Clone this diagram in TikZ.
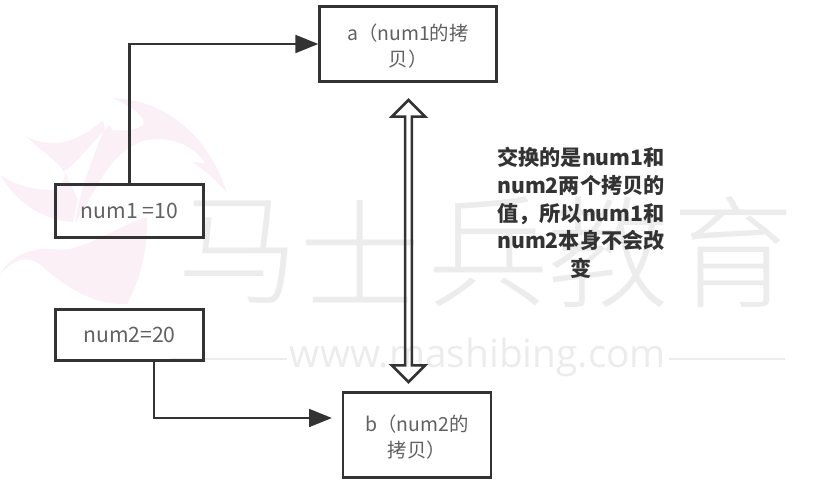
\documentclass[tikz,border=0pt]{standalone}
\usepackage{fontspec}
\usepackage{xcolor}
\setmainfont{Noto Sans CJK SC}
\newfontfamily\wmfont{Noto Sans CJK SC Light}
\newfontfamily\urlfont{Open Sans}
\definecolor{boxline}{rgb}{0.2, 0.2, 0.2}
\definecolor{boxtext}{rgb}{0.38, 0.38, 0.38}
\definecolor{markgray}{rgb}{0.925, 0.925, 0.925}
\definecolor{markpink}{rgb}{0.985, 0.94, 0.965}
\usetikzlibrary{arrows.meta,shapes.arrows}
\newcommand{\dropline}[1]{\raisebox{-1.2pt}[\height][\depth]{#1}}
\tikzset{
    varbox/.style={draw=boxline, line width=1.6pt, rectangle, inner sep=0pt, align=center, text=boxtext, font=\fontsize{11}{14.7}\selectfont},
    copyarrow/.style={draw=boxline, line width=1.6pt, -{Triangle[length=13pt,width=10pt]}},
    swaparrow/.style={draw=boxline, line width=1.5pt, double arrow, rotate=90, inner sep=0pt, minimum height=160pt, minimum width=19pt, double arrow head extend=3pt, double arrow tip angle=90},
    wmark/.style={text=markgray, inner sep=0pt}
}

\begin{document}
\begin{tikzpicture}[x=0.567pt, y=-0.567pt]

    \useasboundingbox (0, 0) rectangle (821, 485);

    % Pink logo behind everything
    \fill[markpink] (112,98) .. controls (170,100) and (210,140) .. (227,193) .. controls (215,180) and (205,170) .. (192,162) -- (205,163) .. controls (190,140) and (160,135) .. (140,142) .. controls (120,150) and (105,170) .. (95,190) .. controls (85,205) and (80,215) .. (75,223) .. controls (80,190) and (90,165) .. (103,132) -- (110,125) -- (112,130) .. controls (130,132) and (147,128) .. (143,120) .. controls (138,108) and (122,104) .. (112,98) -- cycle;
    \fill[markpink] (27,137) .. controls (50,148) and (75,145) .. (103,120) -- (105,130) .. controls (90,145) and (75,165) .. (63,172) .. controls (63,165) and (45,155) .. (27,137) -- cycle;
    \fill[markpink] (0,175) .. controls (15,185) and (35,190) .. (50,190) .. controls (60,190) and (65,180) .. (65,172) -- (78,200) -- (73,222) .. controls (40,220) and (15,200) .. (0,175) -- cycle;
    \fill[markpink] (0,275) .. controls (10,255) and (35,245) .. (60,250) .. controls (85,250) and (120,225) .. (147,217) .. controls (148,250) and (140,280) .. (127,304) .. controls (100,305) and (75,295) .. (43,267) .. controls (30,255) and (15,257) .. (0,275) -- cycle;

    % Big gray watermark, one letter at a time
    \foreach \position/\letter in {238/马, 360/士, 488/兵, 608/教, 733/育} {
        \node[wmark, font=\wmfont\fontsize{69}{69}\selectfont] at (\position, 252) {\letter};
    }
    \node[wmark, font=\urlfont\fontsize{22}{24}\selectfont] (website) at (478, 357) {www.mashibing.com};
    \draw[markgray, line width=1pt] (website.west) ++(-3,2) -- (170, 359);
    \draw[markgray, line width=1pt] (website.east) ++(3,2) -- (785, 359);

    % The four boxes
    \node[varbox, minimum width=100pt, minimum height=42.5pt] (copya) at (408, 44) {\dropline{a（num1的拷}\\\dropline{贝）}};
    \node[varbox, minimum width=83.5pt, minimum height=30.5pt] (numa) at (129.5, 211) {\fontsize{12}{14}\selectfont num1 =10};
    \node[varbox, minimum width=83.5pt, minimum height=29pt] (numb) at (129.5, 335) {\fontsize{12}{14}\selectfont num2=20};
    \node[varbox, minimum width=84pt, minimum height=48pt] (copyb) at (417, 435) {\dropline{b（num2的}\\\dropline{拷贝）}};

    % Elbow connectors
    \coordinate (turna) at (numa.north |- copya.west);
    \coordinate (turnb) at (154, 418);
    \coordinate (endb) at (332, 418);
    \draw[copyarrow] (numa.north) -- (turna) -- (copya.west);
    \draw[copyarrow] (numb.south -| turnb) -- (turnb) -- (endb);

    % Swap arrow between the copies
    \node[swaparrow] (swap) at (408.5, 241) {};

    % Note on the right
    \node[font=\fontsize{12}{15.7}\bfseries\selectfont, align=center, inner sep=0pt, text=boxline] (note) at (581, 213)
        {交换的是num1和\\num2两个拷贝的\\值，所以num1和\\num2本身不会改\\变};

\end{tikzpicture}
\end{document}
